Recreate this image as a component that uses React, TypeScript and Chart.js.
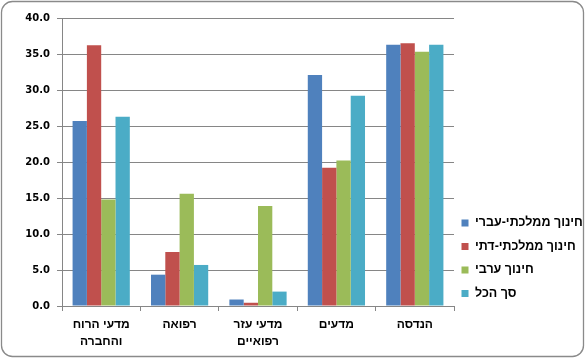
import React, { useEffect, useRef } from "react";
import { Chart, registerables } from "chart.js";

Chart.register(...registerables);

const categories: (string | string[])[] = [
  ["מדעי הרוח", "והחברה"],
  "רפואה",
  ["מדעי עזר", "רפואיים"],
  "מדעים",
  "הנדסה",
];
const seriesNames = ["חינוך ממלכתי-עברי", "חינוך ממלכתי-דתי", "חינוך ערבי", "סך הכל"];
const stateHebrew = [25.7, 4.35, 0.9, 32.1, 36.3];
const stateReligious = [36.2, 7.5, 0.45, 19.2, 36.5];
const arab = [14.8, 15.6, 13.9, 20.2, 35.3];
const total = [26.3, 5.7, 2.0, 29.2, 36.3];
const colors = ["#4F81BD", "#C0504D", "#9BBB59", "#4BACC6"];

const HEB_FONT = "'Liberation Sans', Arial, sans-serif";
const NUM_FONT = "'DejaVu Sans', 'Liberation Sans', sans-serif";

const frame = {
  id: "frame",
  beforeDraw(chart: any) {
    const ctx = chart.ctx;
    ctx.save();
    ctx.fillStyle = "#ffffff";
    ctx.fillRect(0, 0, chart.width, chart.height);
    ctx.strokeStyle = "#8a8a8a";
    ctx.lineWidth = 1.3;
    ctx.beginPath();
    (ctx as any).roundRect(1.5, 1.5, chart.width - 3, chart.height - 3, 11);
    ctx.stroke();
    ctx.restore();
  },
};

const customLegend = {
  id: "customLegend",
  afterDraw(chart: any) {
    const ctx = chart.ctx;
    ctx.save();
    ctx.font = `bold 12.5px ${HEB_FONT}`;
    ctx.textBaseline = "middle";
    ctx.textAlign = "left";
    const ys = [223, 246.5, 270, 293.5];
    chart.data.datasets.forEach((ds: any, i: number) => {
      const y = ys[i];
      ctx.fillStyle = ds.backgroundColor;
      ctx.fillRect(461.5, y - 3.5, 7, 7);
      ctx.fillStyle = "#000";
      ctx.fillText(ds.label, 475, y);
    });
    ctx.restore();
  },
};

export default function App() {
  const ref = useRef<HTMLCanvasElement>(null);
  useEffect(() => {
    document.body.style.margin = "0";
    const data = [stateHebrew, stateReligious, arab, total];
    const chart = new Chart(ref.current!, {
      type: "bar",
      data: {
        labels: categories,
        datasets: seriesNames.map((n, i) => ({
          label: n,
          data: data[i],
          backgroundColor: colors[i],
          borderWidth: 0,
          categoryPercentage: 0.73,
          barPercentage: 1,
        })),
      },
      options: {
        animation: false,
        responsive: false,
        devicePixelRatio: 1,
        layout: { padding: { left: 0, top: 18, right: 131, bottom: 0 } },
        plugins: { legend: { display: false }, tooltip: { enabled: false } },
        scales: {
          x: {
            grid: {
              display: true,
              drawOnChartArea: false,
              drawTicks: true,
              tickLength: 5,
              color: "#868686",
              offset: true,
            },
            border: { display: true, color: "#868686", width: 1 },
            ticks: {
              color: "#000",
              font: { family: HEB_FONT, size: 12, weight: "bold", lineHeight: 1.35 },
              padding: 6,
              maxRotation: 0,
              autoSkip: false,
            },
            afterFit: (s: any) => {
              s.height = 52;
            },
          },
          y: {
            min: 0,
            max: 40,
            ticks: {
              stepSize: 5,
              color: "#000",
              font: { family: NUM_FONT, size: 10, weight: "bold" },
              padding: 7,
              callback: (v: any) => Number(v).toFixed(1),
            },
            grid: { color: "#868686", tickLength: 5, lineWidth: 1 },
            border: { display: true, color: "#868686", width: 1 },
            afterFit: (s: any) => {
              s.width = 62;
            },
          },
        },
      },
      plugins: [frame, customLegend],
    });
    return () => chart.destroy();
  }, []);
  return (
    <div style={{ position: "absolute", left: 0, top: 0, width: 585, height: 358 }}>
      <canvas ref={ref} width={585} height={358} style={{ width: 585, height: 358 }} />
    </div>
  );
}
